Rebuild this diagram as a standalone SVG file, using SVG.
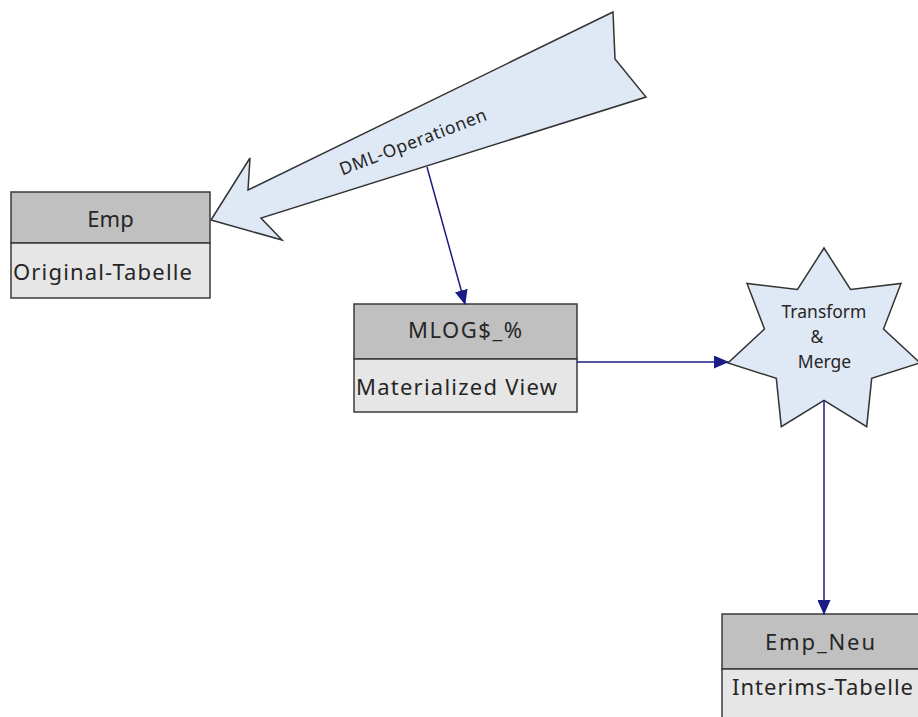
<svg xmlns="http://www.w3.org/2000/svg" width="918" height="717" viewBox="0 0 918 717">
<style>
.hdr{fill:#c0c0c0;stroke:#3a3a3a;stroke-width:1.5}
.body{fill:#e6e6e6;stroke:#3a3a3a;stroke-width:1.5}
.t{font-family:"Noto Sans","Open Sans",sans-serif;fill:#262626}
.big{font-size:22px}
.sm{font-size:17.5px}
.shape{fill:#dfe8f5;stroke:#333;stroke-width:1.5;stroke-linejoin:miter}
.conn{fill:none;stroke:#1c1c85;stroke-width:1.5}
</style>
<defs>
<marker id="ah" markerWidth="15" markerHeight="13" refX="14" refY="6.5" orient="auto" markerUnits="userSpaceOnUse">
<path d="M0,0 L15,6.5 L0,13 Z" fill="#1c1c85"/>
</marker>
</defs>
<rect width="918" height="717" fill="#fff"/>

<g id="dml">
<polygon class="shape" points="211,220 250,158 248,190 613,12 615,59 646,97 261,218 282,240"/>
<text class="t sm" x="413" y="148" text-anchor="middle" transform="rotate(-21 413 142)" textLength="156" lengthAdjust="spacing">DML-Operationen</text>
</g>

<g id="emp">
<rect class="hdr" x="11" y="192" width="199" height="51"/>
<rect class="body" x="11" y="243" width="199" height="55"/>
<text class="t big" x="110.5" y="227" text-anchor="middle">Emp</text>
<text class="t big" x="13" y="280" textLength="179" lengthAdjust="spacing">Original-Tabelle</text>
</g>

<g id="mlog">
<rect class="hdr" x="354" y="304" width="223" height="55"/>
<rect class="body" x="354" y="359" width="223" height="53"/>
<text class="t big" x="465" y="338" text-anchor="middle" textLength="114" lengthAdjust="spacing">MLOG$_%</text>
<text class="t big" x="356" y="395" textLength="201" lengthAdjust="spacing">Materialized View</text>
</g>

<g id="merge">
<polygon class="shape" points="824,248 850.5,289.5 901,283.4 883.5,329 920,362.9 871.7,378.4 866.7,426.7 824,400.3 781.3,426.7 776.3,378.4 728,362.9 764.5,329 747,283.4 797.5,289.5"/>
<text class="t sm" x="824" y="318" text-anchor="middle">Transform</text>
<text class="t sm" x="817" y="343" text-anchor="middle">&amp;</text>
<text class="t sm" x="824.5" y="368" text-anchor="middle">Merge</text>
</g>

<g id="empneu">
<rect class="hdr" x="722" y="614" width="199" height="55"/>
<rect class="body" x="722" y="669" width="199" height="56"/>
<text class="t big" x="820" y="650" text-anchor="middle" textLength="110" lengthAdjust="spacing">Emp_Neu</text>
<text class="t big" x="732" y="695" textLength="181" lengthAdjust="spacing">Interims-Tabelle</text>
</g>

<g id="connectors">
<line class="conn" x1="427" y1="167" x2="465" y2="304" marker-end="url(#ah)"/>
<line class="conn" x1="577" y1="362" x2="728" y2="362" marker-end="url(#ah)"/>
<line class="conn" x1="824" y1="400" x2="824" y2="614" marker-end="url(#ah)"/>
</g>
</svg>
